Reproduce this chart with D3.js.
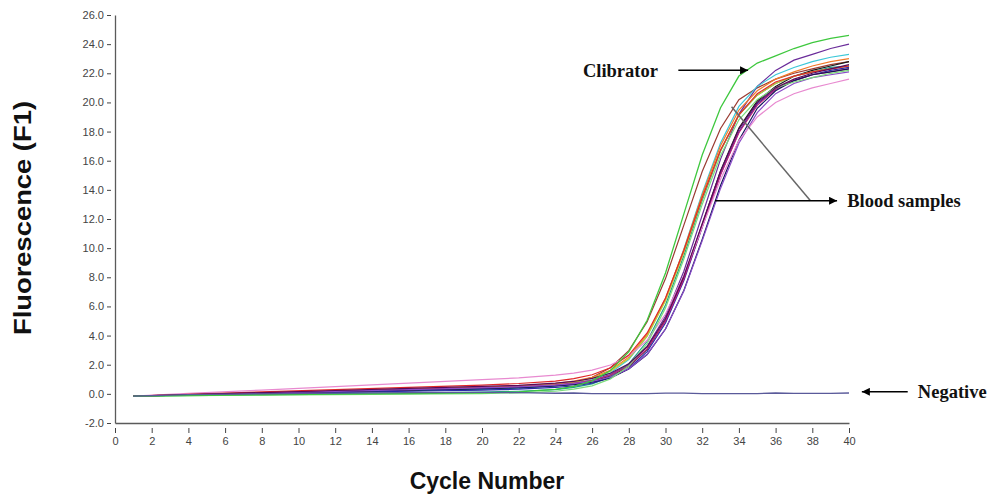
<!DOCTYPE html>
<html>
<head>
<meta charset="utf-8">
<script src="https://cdn.jsdelivr.net/npm/d3@7/dist/d3.min.js"></script>
<style>
  html, body { margin: 0; padding: 0; background: #fff; }
  svg { display: block; }
</style>
</head>
<body>
<svg id="chart" width="987" height="496"></svg>
<script>
// Real-time PCR amplification curves: fluorescence per cycle
const cycles = [1, 4, 8, 12, 16, 20, 22, 24, 25, 26, 27, 28, 29, 30, 31, 32, 33, 34, 35, 36, 37, 38, 39, 40];

const calibrator = [-0.15, -0.12, -0.07, -0.02, 0.02, 0.07, 0.14, 0.31, 0.51, 0.89, 1.6, 2.88, 5.05, 8.3, 12.35, 16.39, 19.64, 21.81, 22.7, 23.2, 23.7, 24.1, 24.4, 24.6];
const negative = [-0.15, -0.05, 0.0, 0.05, 0.08, 0.1, 0.08, 0.04, 0.06, 0.02, 0.02, 0.02, 0.02, 0.05, 0.05, 0.02, 0.02, 0.02, 0.02, 0.06, 0.03, 0.03, 0.03, 0.06];

const sampleBrown = [-0.15, -0.08, 0.02, 0.12, 0.22, 0.31, 0.4, 0.58, 0.78, 1.14, 1.79, 2.97, 4.95, 7.91, 11.58, 15.26, 18.21, 20.19, 21.0, 21.6, 22.0, 22.3, 22.6, 22.8];
const samplePurple = [-0.15, -0.06, 0.06, 0.17, 0.29, 0.41, 0.49, 0.62, 0.74, 0.95, 1.33, 2.02, 3.26, 5.33, 8.41, 12.26, 16.11, 19.2, 21.1, 22.2, 22.9, 23.3, 23.7, 24.0];
const sampleCyan = [-0.15, -0.08, 0.02, 0.12, 0.22, 0.31, 0.39, 0.54, 0.68, 0.96, 1.45, 2.36, 3.95, 6.48, 9.92, 13.77, 17.21, 19.73, 21.1, 21.9, 22.4, 22.8, 23.1, 23.3];
const sampleOrange = [-0.15, -0.05, 0.07, 0.2, 0.33, 0.46, 0.55, 0.71, 0.87, 1.13, 1.62, 2.52, 4.08, 6.54, 9.9, 13.65, 17.02, 19.48, 20.8, 21.6, 22.1, 22.5, 22.8, 23.0];
const sampleBlack = [-0.15, -0.07, 0.04, 0.15, 0.25, 0.36, 0.44, 0.56, 0.67, 0.86, 1.22, 1.88, 3.05, 5.03, 7.97, 11.63, 15.3, 18.24, 20.1, 21.1, 21.8, 22.2, 22.5, 22.8];
const sampleTeal = [-0.15, -0.11, -0.05, 0.01, 0.06, 0.12, 0.18, 0.29, 0.44, 0.69, 1.18, 2.06, 3.61, 6.1, 9.48, 13.28, 16.66, 19.15, 20.5, 21.3, 21.8, 22.1, 22.4, 22.5];
const sampleOlive = [-0.15, -0.06, 0.06, 0.17, 0.29, 0.41, 0.5, 0.65, 0.8, 1.07, 1.55, 2.43, 3.96, 6.39, 9.69, 13.4, 16.71, 19.14, 20.5, 21.3, 21.8, 22.1, 22.3, 22.5];
const sampleBlue = [-0.15, -0.08, 0.0, 0.09, 0.18, 0.26, 0.32, 0.44, 0.54, 0.73, 1.09, 1.74, 2.9, 4.86, 7.78, 11.43, 15.07, 17.99, 19.9, 20.9, 21.5, 21.9, 22.2, 22.4];
const sampleMagenta = [-0.15, -0.06, 0.06, 0.17, 0.29, 0.41, 0.48, 0.62, 0.73, 0.93, 1.28, 1.92, 3.08, 5.01, 7.88, 11.46, 15.04, 17.92, 19.8, 20.9, 21.5, 21.9, 22.1, 22.3];
const sampleNavy = [-0.15, -0.07, 0.04, 0.15, 0.25, 0.36, 0.43, 0.54, 0.64, 0.8, 1.1, 1.7, 2.7, 4.45, 7.1, 10.6, 14.3, 17.4, 19.6, 20.8, 21.5, 21.9, 22.1, 22.3];
const sampleViolet = [-0.15, -0.06, 0.06, 0.17, 0.29, 0.41, 0.48, 0.6, 0.7, 0.86, 1.15, 1.72, 2.72, 4.45, 7.05, 10.5, 14.1, 17.2, 19.3, 20.6, 21.3, 21.7, 21.9, 22.1];
const samplePink = [-0.15, 0.03, 0.26, 0.5, 0.73, 0.97, 1.1, 1.29, 1.42, 1.63, 1.98, 2.6, 3.68, 5.48, 8.13, 11.43, 14.73, 17.38, 19.0, 20.0, 20.6, 21.0, 21.3, 21.6];
const sampleRed = [-0.15, -0.03, 0.13, 0.29, 0.45, 0.6, 0.71, 0.88, 1.04, 1.31, 1.79, 2.66, 4.18, 6.58, 9.84, 13.48, 16.74, 19.14, 20.6, 21.4, 21.8, 22.1, 22.3, 22.5];
const sampleLightGreen = [-0.15, -0.12, -0.09, -0.05, -0.02, 0.02, 0.07, 0.18, 0.32, 0.55, 1.03, 1.9, 3.44, 5.9, 9.25, 13.0, 16.35, 18.81, 20.2, 21.0, 21.4, 21.7, 22.0, 22.2];
const sampleDarkPurple = [-0.15, -0.05, 0.09, 0.23, 0.37, 0.51, 0.58, 0.74, 0.85, 1.06, 1.41, 2.07, 3.23, 5.17, 8.07, 11.67, 15.28, 18.17, 20.0, 21.0, 21.6, 22.0, 22.3, 22.6];

const samples = [sampleBrown, samplePurple, sampleCyan, sampleOrange, sampleBlack, sampleTeal, sampleOlive,
  sampleBlue, sampleMagenta, sampleNavy, sampleViolet, samplePink, sampleRed, sampleLightGreen, sampleDarkPurple];
const sampleColors = ["#9a3b32", "#6a2c9a", "#3cc8d8", "#f07a2a", "#1a1a1a", "#1f9c8c", "#c8c832",
  "#2a2aa8", "#c0207a", "#14145a", "#8a4cc8", "#e88ad0", "#e02828", "#7cdc7c", "#5a0a5a"];
const calibratorColor = "#3ec83e";
const negativeColor = "#5a5a9a";

const xTicks = d3.range(0, 41, 2);
const yTicks = d3.range(-2, 27, 2);

const xTitle = "Cycle Number";
const yTitle = "Fluorescence (F1)";

// Annotation anchors, in data units (cycle, fluorescence)
const calibratorNote = { text: "Clibrator", from: [30.7, 22.2], to: [34.5, 22.2], labelAt: 25.5 };
const bloodNote = { text: "Blood samples", from: [32.7, 13.25], to: [39.35, 13.25], branch: [33.6, 19.7], labelAt: 39.9 };
const negativeNote = { text: "Negative", from: [43.2, 0.14], to: [40.7, 0.14], labelAt: 43.75 };

const svg = d3.select("#chart");

const x = d3.scaleLinear().domain([0, 40]).range([115, 849]);
const y = d3.scaleLinear().domain([-2, 26]).range([423, 15]);

const axisColor = "#5a5a5a";
const tickFont = "'Liberation Sans', Arial, sans-serif";

// Y axis
const yAxis = svg.append("g")
  .attr("transform", `translate(${x(0)},0)`)
  .call(d3.axisLeft(y).tickValues(yTicks).tickSizeOuter(0).tickSizeInner(4)
    .tickFormat(d => d.toFixed(1)));
yAxis.select(".domain").attr("stroke", axisColor).attr("stroke-width", 1.3);
yAxis.selectAll(".tick line").attr("x1", -4).attr("x2", -8).attr("stroke", "#444");
yAxis.selectAll(".tick text").attr("x", -11).attr("fill", "#444")
  .style("font-family", tickFont).style("font-size", "11px");

// X axis
const xAxis = svg.append("g")
  .attr("transform", `translate(0,${y(-2)})`)
  .call(d3.axisBottom(x).tickValues(xTicks).tickSizeOuter(0).tickSizeInner(5));
xAxis.select(".domain").attr("stroke", axisColor).attr("stroke-width", 1.3);
xAxis.selectAll(".tick line").attr("y1", 5).attr("y2", 10).attr("stroke", "#444");
xAxis.selectAll(".tick text").attr("y", 14).attr("fill", "#444")
  .style("font-family", tickFont).style("font-size", "11px");

// Axis titles
svg.append("text")
  .attr("x", 487).attr("y", 489)
  .attr("text-anchor", "middle")
  .style("font-family", tickFont).style("font-weight", "bold").style("font-size", "23px")
  .attr("fill", "#111")
  .text(xTitle);

svg.append("text")
  .attr("transform", `translate(31,218) rotate(-90)`)
  .attr("text-anchor", "middle")
  .attr("textLength", 234)
  .attr("lengthAdjust", "spacingAndGlyphs")
  .style("font-family", tickFont).style("font-weight", "bold").style("font-size", "23px")
  .attr("fill", "#111")
  .text(yTitle);

// Curves
const line = d3.line()
  .x((d, i) => x(cycles[i]))
  .y(d => y(d));

const plot = svg.append("g").attr("fill", "none");

samples.forEach((s, i) => {
  plot.append("path")
    .attr("d", line(s))
    .attr("stroke", sampleColors[i])
    .attr("stroke-width", 1.2);
});

plot.append("path")
  .attr("d", line(calibrator))
  .attr("stroke", calibratorColor)
  .attr("stroke-width", 1.3);

plot.append("path")
  .attr("d", line(negative))
  .attr("stroke", negativeColor)
  .attr("stroke-width", 1.3);

// Annotations
const defs = svg.append("defs");
defs.append("marker")
  .attr("id", "arrowhead")
  .attr("viewBox", "0 0 10 10")
  .attr("refX", 10).attr("refY", 5)
  .attr("markerWidth", 10).attr("markerHeight", 8)
  .attr("markerUnits", "userSpaceOnUse")
  .attr("orient", "auto")
  .append("path")
  .attr("d", "M0,0 L10,5 L0,10 Z")
  .attr("fill", "#000");

const noteFont = "'Liberation Serif', 'Times New Roman', serif";
const notes = svg.append("g");

function arrow(from, to) {
  notes.append("line")
    .attr("x1", x(from[0])).attr("y1", y(from[1]))
    .attr("x2", x(to[0])).attr("y2", y(to[1]))
    .attr("stroke", "#000").attr("stroke-width", 1.5)
    .attr("marker-end", "url(#arrowhead)");
}

function label(txt, cx, cy, anchor) {
  notes.append("text")
    .attr("x", x(cx)).attr("y", y(cy))
    .attr("dy", "0.35em")
    .attr("text-anchor", anchor)
    .style("font-family", noteFont).style("font-weight", "bold").style("font-size", "18.5px")
    .attr("fill", "#111")
    .text(txt);
}

arrow(calibratorNote.from, calibratorNote.to);
label(calibratorNote.text, calibratorNote.labelAt, calibratorNote.from[1], "start");

notes.append("line")
  .attr("x1", x(bloodNote.branch[0])).attr("y1", y(bloodNote.branch[1]))
  .attr("x2", x(37.9)).attr("y2", y(bloodNote.from[1]))
  .attr("stroke", "#666").attr("stroke-width", 1.5);
arrow(bloodNote.from, bloodNote.to);
label(bloodNote.text, bloodNote.labelAt, bloodNote.from[1], "start");

arrow(negativeNote.from, negativeNote.to);
label(negativeNote.text, negativeNote.labelAt, negativeNote.from[1], "start");
</script>
</body>
</html>
